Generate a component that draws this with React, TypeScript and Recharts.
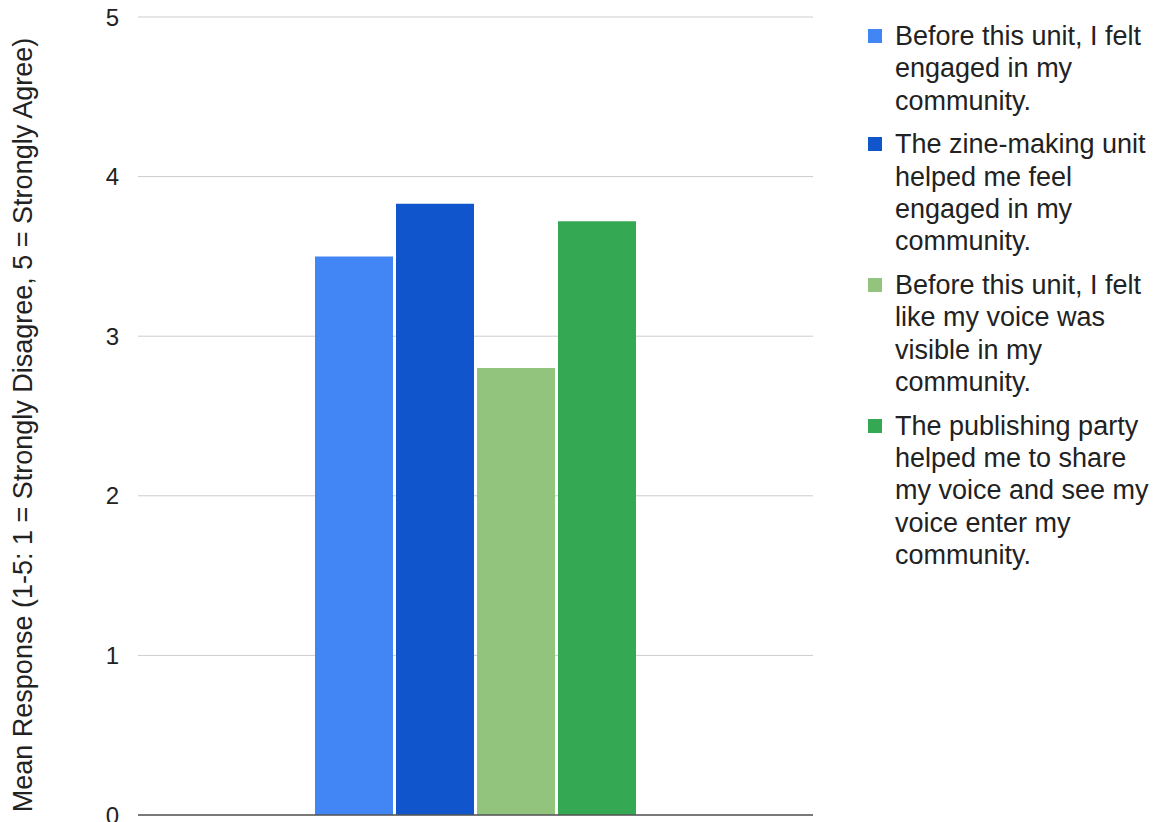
import { BarChart, Bar, XAxis, YAxis, CartesianGrid, Legend, ReferenceLine } from "recharts";

const categories = [""];
const seriesNames = [
  "Before this unit, I felt engaged in my community.",
  "The zine-making unit helped me feel engaged in my community.",
  "Before this unit, I felt like my voice was visible in my community.",
  "The publishing party helped me to share my voice and see my voice enter my community.",
];
const seriesValues = [3.5, 3.83, 2.8, 3.72];
const seriesColors = ["#4285F4", "#1155CC", "#93C47D", "#34A853"];
const yTicks = [0, 1, 2, 3, 4, 5];
const yTitle = "Mean Response (1-5: 1 = Strongly Disagree, 5 = Strongly Agree)";

const data = categories.map((name) => {
  const row: Record<string, string | number> = { name };
  seriesValues.forEach((v, i) => {
    row[`s${i}`] = v;
  });
  return row;
});

const FONT = "Arial, 'Liberation Sans', sans-serif";

const LegendContent = () => (
  <div style={{ fontFamily: FONT, fontSize: 27, lineHeight: "32.3px", color: "#222" }}>
    {seriesNames.map((name, i) => (
      <div key={name} style={{ display: "flex", alignItems: "flex-start", marginBottom: 11.5 }}>
        <div
          style={{
            width: 14,
            height: 14,
            background: seriesColors[i],
            marginTop: 9,
            marginRight: 13,
            flex: "none",
          }}
        />
        <div style={{ width: 262 }}>{name}</div>
      </div>
    ))}
  </div>
);

const YTitle = (props: any) => {
  const vb = props.viewBox || {};
  const cx = 32;
  const cy = (vb.y ?? 17) + (vb.height ?? 798) / 2 + 9;
  return (
    <text
      x={cx}
      y={cy}
      transform={`rotate(-90, ${cx}, ${cy})`}
      textAnchor="middle"
      fill="#222"
      fontSize={27}
      fontFamily={FONT}
    >
      {yTitle}
    </text>
  );
};

export default function App() {
  return (
    <div style={{ position: "absolute", left: 0, top: 0, background: "#fff" }}>
      <BarChart
        width={1156}
        height={822}
        data={data}
        margin={{ top: 17, right: 40, bottom: 7, left: 0 }}
        barGap={3}
        barSize={78}
      >
        <CartesianGrid vertical={false} stroke="#cccccc" />
        <XAxis dataKey="name" axisLine={false} tickLine={false} tick={false} height={0} />
        <YAxis
          domain={[0, 5]}
          ticks={yTicks}
          interval={0}
          axisLine={false}
          tickLine={false}
          width={138}
          tickMargin={13}
          tick={{ fill: "#222", fontSize: 24, fontFamily: FONT }}
          label={<YTitle />}
        />
        <Legend
          layout="vertical"
          align="right"
          verticalAlign="top"
          width={303}
          wrapperStyle={{ top: 20, right: -15 }}
          content={<LegendContent />}
        />
        {seriesNames.map((name, i) => (
          <Bar key={name} dataKey={`s${i}`} name={name} fill={seriesColors[i]} isAnimationActive={false} />
        ))}
        <ReferenceLine y={0} stroke="#555" strokeWidth={1.5} />
      </BarChart>
    </div>
  );
}
